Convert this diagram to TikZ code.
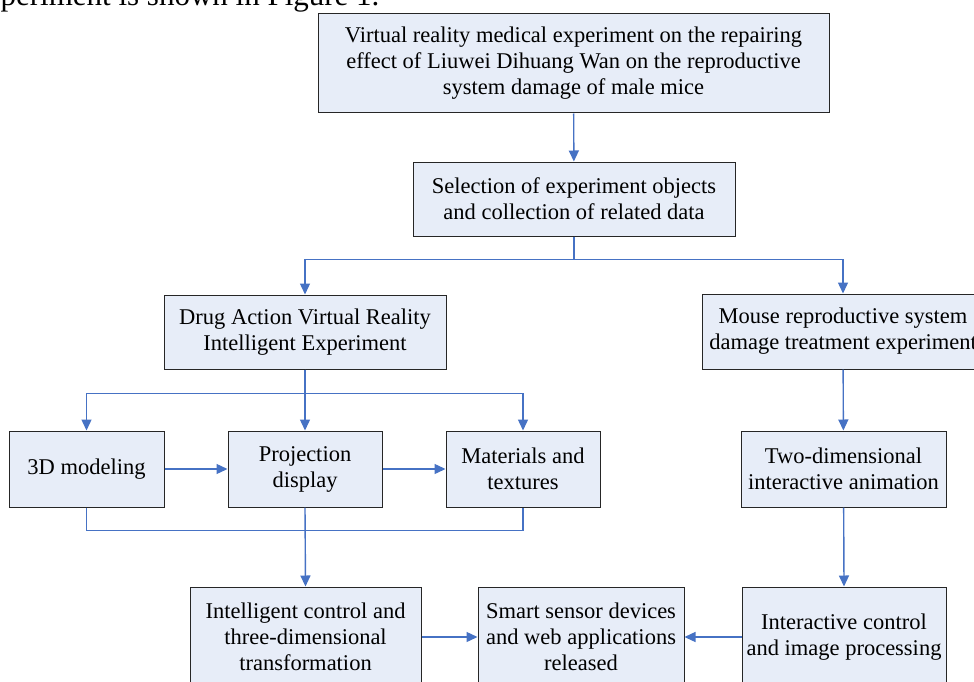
\documentclass[tikz,border=0pt]{standalone}
\usepackage{fontspec}
\setmainfont{Liberation Serif}
\usetikzlibrary{arrows.meta}
\definecolor{boxfill}{RGB}{231,237,248}
\definecolor{linkblue}{RGB}{70,114,196}

\begin{document}
\begin{tikzpicture}[x=1pt, y=-1pt,
    every node/.style={font=\fontsize{22.5}{26}\selectfont},
    box/.style={draw=black!85, fill=boxfill, line width=1pt, inner sep=0pt, align=center},
    link/.style={draw=linkblue, line width=1.4pt},
    tip/.style={link, -{Triangle[length=11pt,width=10pt]}}]
    \useasboundingbox (0,0) rectangle (974,682);
    \clip (0,0) rectangle (974,682);

    \node[anchor=base east, font=\fontsize{31}{36}\selectfont] (intro) at (383,6) {periment is shown in Figure 1.};

    \node[box, minimum width=511, minimum height=99] (aim) at (573.5,63.5) {Virtual reality medical experiment on the repairing\\effect of Liuwei Dihuang Wan on the reproductive\\system damage of male mice};
    \node[box, minimum width=322, minimum height=74] (select) at (574,199) {Selection of experiment objects\\and collection of related data};
    \node[box, minimum width=282, minimum height=74] (drug) at (305,332) {Drug Action Virtual Reality\\Intelligent Experiment};
    \node[box, minimum width=282, minimum height=75] (mouse) at (843,331.5) {Mouse reproductive system\\damage treatment experiment};

    \node[box, minimum width=155, minimum height=76] (model) at (86.5,469) {3D modeling};
    \node[box, minimum width=154, minimum height=76] (proj) at (305,469) {Projection\\display};
    \node[box, minimum width=154, minimum height=76] (mat) at (523,469) {Materials and\\textures};
    \node[box, minimum width=205, minimum height=76] (anim) at (843.5,469) {Two-dimensional\\interactive animation};

    \node[box, minimum width=231, minimum height=100] (intel) at (305.5,637) {Intelligent control and\\three-dimensional\\transformation};
    \node[box, minimum width=206, minimum height=100] (smart) at (581,637) {Smart sensor devices\\and web applications\\released};
    \node[box, minimum width=204, minimum height=100] (inter) at (844,637) {Interactive control\\and image processing};

    \draw[tip] (aim) -- (select);
    \draw[tip] (select.south) -- ++(0,23) -| (drug.north);
    \draw[tip] (select.south) -- ++(0,23) -| (mouse.north);

    \draw[tip] (drug.south) -- ++(0,24) -| (model.north);
    \draw[tip] (drug.south) -- (proj.north);
    \draw[tip] (drug.south) -- ++(0,24) -| (mat.north);
    \draw[tip] (model) -- (proj);
    \draw[tip] (proj) -- (mat);
    \draw[link] (model.south) -- ++(0,23) -| (mat.south);
    \draw[tip] (proj.south) -- (intel.north);

    \draw[tip] (mouse) -- (anim);
    \draw[tip] (anim) -- (inter.north);
    \draw[tip] (intel.east |- smart.west) -- (smart.west);
    \draw[tip] (inter.west |- smart.east) -- (smart.east);
\end{tikzpicture}
\end{document}
